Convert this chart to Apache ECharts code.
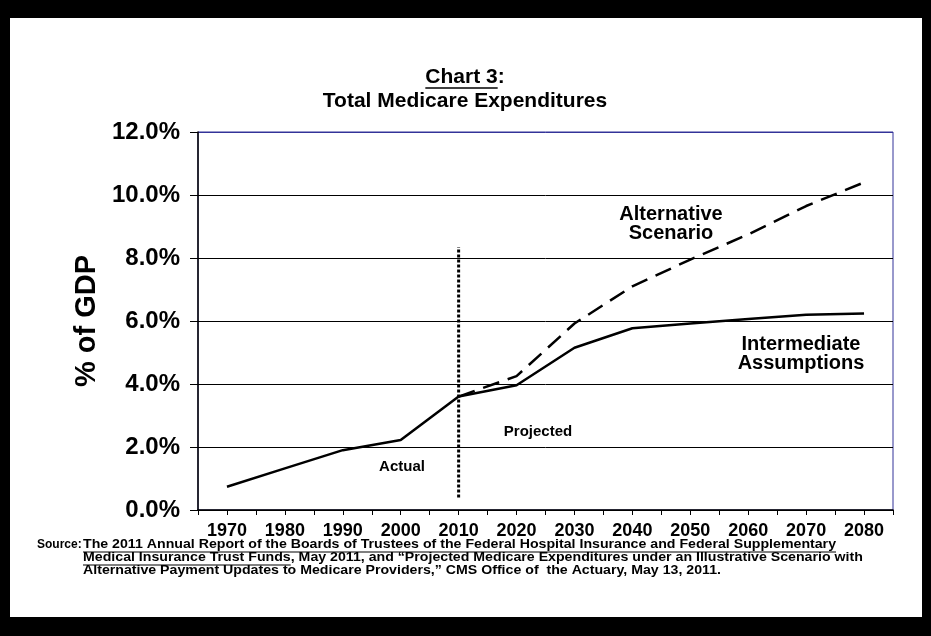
<!DOCTYPE html>
<html><head><meta charset="utf-8">
<script src="https://cdn.jsdelivr.net/npm/echarts@6/dist/echarts.min.js"></script>
<style>html,body{margin:0;padding:0;background:#fff}#c{width:931px;height:636px}</style>
</head><body><div id="c"></div>
<script>
const years = [1970,1980,1990,2000,2010,2020,2030,2040,2050,2060,2070,2080];
const intermediate = [0.74,1.32,1.90,2.22,3.60,3.96,5.15,5.77,5.92,6.06,6.20,6.24];
const altYears = [2010,2020,2030,2040,2050,2060,2070,2080];
const alternative = [3.60,4.25,5.92,7.10,7.95,8.75,9.65,10.40];
const dividerYear = 2010;
const dividerRange = [0.4, 8.35];
const titleLine1 = 'Chart 3';
const titleLine2 = 'Total Medicare Expenditures';
const sourceLabel = 'Source:';
const sourceLines = [
  'The 2011 Annual Report of the Boards of Trustees of the Federal Hospital Insurance and Federal Supplementary',
  'Medical Insurance Trust Funds, May 2011, and \u201cProjected Medicare Expenditures under an Illustrative Scenario with',
  'Alternative Payment Updates to Medicare Providers,\u201d CMS Office of  the Actuary, May 13, 2011.'
];
const underlined2 = 'Medical Insurance Trust Funds';

const FF = '"Liberation Sans", Arial, Helvetica, sans-serif';
const ctx = document.createElement('canvas').getContext('2d');
function tw(t, size){ ctx.font = 'bold ' + size + 'px ' + FF; return ctx.measureText(t).width; }

const chart = echarts.init(document.getElementById('c'), null, {renderer:'canvas'});
const tSize = 21, sSize = 12, sScale = 1.18;
const t1w = tw(titleLine1 + ':', tSize), t1u = tw(titleLine1, tSize);
const srcX = 83;
function srcText(txt, y){
  return {type:'text', x:srcX, y:y, scaleX:sScale, style:{text:txt, font:'bold '+sSize+'px '+FF, fill:'#000', align:'left', verticalAlign:'middle'}};
}
const graphics = [
  {type:'rect', shape:{x:0,y:0,width:931,height:18}, style:{fill:'#000'}, silent:true},
  {type:'rect', shape:{x:0,y:0,width:10,height:636}, style:{fill:'#000'}, silent:true},
  {type:'rect', shape:{x:922,y:0,width:9,height:636}, style:{fill:'#000'}, silent:true},
  {type:'rect', shape:{x:0,y:617,width:931,height:19}, style:{fill:'#000'}, silent:true},
  {type:'text', x:465, y:77, style:{text:titleLine1 + ':', font:'bold '+tSize+'px '+FF, fill:'#000', align:'center', verticalAlign:'middle'}},
  {type:'line', shape:{x1:465 - t1w/2, y1:88, x2:465 - t1w/2 + t1u, y2:88}, style:{stroke:'#000', lineWidth:1.5}},
  {type:'text', x:465, y:101, style:{text:titleLine2, font:'bold '+tSize+'px '+FF, fill:'#000', align:'center', verticalAlign:'middle'}},
  {type:'text', x:37, y:545, style:{text:sourceLabel, font:'bold '+sSize+'px '+FF, fill:'#000', align:'left', verticalAlign:'middle'}},
  srcText(sourceLines[0], 545),
  {type:'line', shape:{x1:srcX, y1:552, x2:srcX + tw(sourceLines[0], sSize)*sScale, y2:552}, style:{stroke:'#000', lineWidth:1}},
  srcText(sourceLines[1], 558),
  {type:'line', shape:{x1:srcX, y1:565, x2:srcX + tw(underlined2, sSize)*sScale, y2:565}, style:{stroke:'#000', lineWidth:1}},
  srcText(sourceLines[2], 571),
  {type:'text', x:671, y:224, style:{text:'Alternative\nScenario', font:'bold 20px '+FF, lineHeight:19, fill:'#000', align:'center', verticalAlign:'middle'}},
  {type:'text', x:801, y:354, style:{text:'Intermediate\nAssumptions', font:'bold 20px '+FF, lineHeight:19, fill:'#000', align:'center', verticalAlign:'middle'}},
  {type:'text', x:538, y:432, style:{text:'Projected', font:'bold 15px '+FF, fill:'#000', align:'center', verticalAlign:'middle'}},
  {type:'text', x:402, y:467, style:{text:'Actual', font:'bold 15px '+FF, fill:'#000', align:'center', verticalAlign:'middle'}}
];

chart.setOption({
  backgroundColor:'#fff',
  animation:false,
  grid:{left:198, right:38, top:132, bottom:126, show:true, borderColor:'#333399', borderWidth:1, backgroundColor:'transparent'},
  xAxis:{
    type:'value', min:1965, max:2085, interval:5,
    axisLine:{show:true, onZero:false, lineStyle:{color:'#000', width:1.5}},
    axisTick:{show:true, length:5, lineStyle:{color:'#000'}},
    splitLine:{show:false},
    axisLabel:{formatter:function(v){return v % 10 === 0 ? String(v) : '';}, color:'#000', fontFamily:FF, fontWeight:'bold', fontSize:18, margin:12, hideOverlap:false}
  },
  yAxis:{
    type:'value', min:0, max:12, interval:2,
    name:'% of GDP', nameLocation:'middle', nameGap:97, nameRotate:90,
    nameTextStyle:{color:'#000', fontFamily:FF, fontWeight:'bold', fontSize:29},
    axisLine:{show:true, lineStyle:{color:'#000', width:1.5}},
    axisTick:{show:true, length:8, lineStyle:{color:'#000'}},
    splitLine:{show:true, lineStyle:{color:['#000','#000','#000','#000','#000','#000','#333399'], width:1}},
    axisLabel:{formatter:function(v){return v.toFixed(1)+'%';}, color:'#000', fontFamily:FF, fontWeight:'bold', fontSize:24, margin:18}
  },
  series:[
    {name:'Intermediate Assumptions', type:'line', data:years.map((y,i)=>[y, intermediate[i]]), showSymbol:false, symbol:'none', lineStyle:{color:'#000', width:2.5}, z:5},
    {name:'Alternative Scenario', type:'line', data:altYears.map((y,i)=>[y, alternative[i]]), showSymbol:false, symbol:'none', lineStyle:{color:'#000', width:2.5, type:[17,9]}, z:4},
    {name:'Divider', type:'line', data:[[dividerYear, dividerRange[0]],[dividerYear, dividerRange[1]]], showSymbol:false, symbol:'none', lineStyle:{color:'#000', width:3, type:[3,2]}, z:6}
  ],
  graphic:graphics
});
</script></body></html>
